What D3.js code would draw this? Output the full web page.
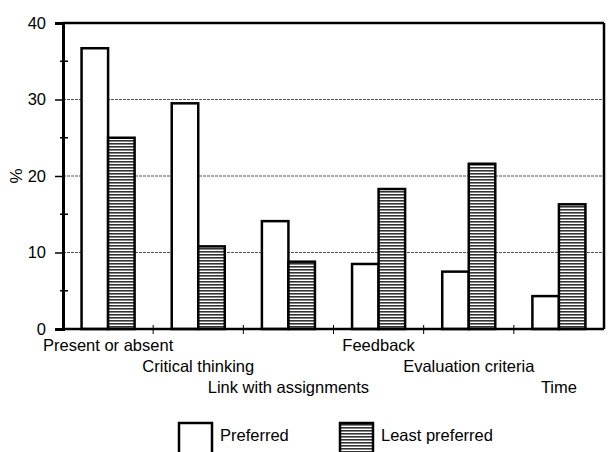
<!DOCTYPE html>
<html>
<head>
<meta charset="utf-8">
<script src="https://cdn.jsdelivr.net/npm/d3@7"></script>
<style>
body{margin:0;background:#fff;}
text{font-family:"Liberation Sans",Arial,sans-serif;fill:#000;}
</style>
</head>
<body>
<div id="chart"></div>
<script>
// data
var categories = ["Present or absent","Critical thinking","Link with assignments","Feedback","Evaluation criteria","Time"];
var seriesNames = ["Preferred","Least preferred"];
var preferred = [36.7, 29.5, 14.1, 8.5, 7.5, 4.3];
var leastPreferred = [25.0, 10.8, 8.8, 18.3, 21.6, 16.3];
var yTicks = [0,10,20,30,40];
var yMinor = [5,15,25,35];

var W = 609, H = 452;
var margin = {top: 23, left: 63, right: 5, bottom: 123};
var width = W - margin.left - margin.right,
    height = H - margin.top - margin.bottom;

var svg = d3.select("#chart").append("svg")
  .attr("width", W).attr("height", H);

// hatch pattern for least preferred
var defs = svg.append("defs");
var pat = defs.append("pattern")
  .attr("id","hatch").attr("patternUnits","userSpaceOnUse")
  .attr("width",6).attr("height",3);
pat.append("rect").attr("width",6).attr("height",3).attr("fill","#fff");
pat.append("rect").attr("y",0).attr("width",6).attr("height",1.6).attr("fill","#333");

var g = svg.append("g").attr("transform","translate("+margin.left+","+margin.top+")");

var x = d3.scaleBand().domain(categories).range([0,width]).padding(0);
var sub = d3.scaleBand().domain(seriesNames).range([0,x.bandwidth()]).paddingInner(0).paddingOuter(0.7);
var y = d3.scaleLinear().domain([0,40]).range([height,0]);

// gridlines
g.append("g").selectAll("line")
  .data(yTicks.filter(function(d){return d>0 && d<40;}))
  .enter().append("line")
  .attr("x1",0).attr("x2",width)
  .attr("y1",function(d){return y(d);}).attr("y2",function(d){return y(d);})
  .attr("stroke","#555").attr("stroke-width",1).attr("stroke-dasharray","3,1");

// bars
var rows = categories.map(function(c,i){
  return {cat:c, vals:[{k:"Preferred",v:preferred[i]},{k:"Least preferred",v:leastPreferred[i]}]};
});
var grp = g.selectAll(".grp").data(rows).enter().append("g")
  .attr("transform",function(d){return "translate("+x(d.cat)+",0)";});
grp.selectAll("rect").data(function(d){return d.vals;}).enter().append("rect")
  .attr("x",function(d){return sub(d.k);})
  .attr("width",sub.bandwidth())
  .attr("y",function(d){return y(d.v);})
  .attr("height",function(d){return height-y(d.v);})
  .attr("fill",function(d){return d.k=="Preferred" ? "#fff" : "url(#hatch)";})
  .attr("stroke","#000").attr("stroke-width",2.5);

// frame
g.append("line").attr("x1",0).attr("x2",width).attr("y1",0).attr("y2",0).attr("stroke","#000").attr("stroke-width",2.5);
g.append("line").attr("x1",width).attr("x2",width).attr("y1",0).attr("y2",height).attr("stroke","#000").attr("stroke-width",2.5);

// y axis
var yAxis = g.append("g").call(d3.axisLeft(y).tickValues(yTicks).tickSize(8).tickPadding(9));
yAxis.select(".domain").attr("stroke-width",3);
yAxis.selectAll(".tick line").attr("stroke-width",1.5);
yAxis.selectAll("text").style("font-size","16.5px");
g.append("g").selectAll("line").data(yMinor).enter().append("line")
  .attr("x1",-3).attr("x2",5)
  .attr("y1",function(d){return y(d);}).attr("y2",function(d){return y(d);})
  .attr("stroke","#000").attr("stroke-width",1.5);

// x axis
g.append("line").attr("x1",0).attr("x2",width).attr("y1",height).attr("y2",height)
  .attr("stroke","#000").attr("stroke-width",2.5);
g.append("g").selectAll("line").data(categories.slice(1)).enter().append("line")
  .attr("x1",function(d){return x(d);}).attr("x2",function(d){return x(d);})
  .attr("y1",height-4).attr("y2",height+5)
  .attr("stroke","#000").attr("stroke-width",1);

// staggered category labels
g.append("g").selectAll("text").data(categories).enter().append("text")
  .attr("x",function(d){return x(d)+x.bandwidth()/2;})
  .attr("y",function(d,i){return height+22+(i%3)*21;})
  .attr("text-anchor","middle")
  .style("font-size","16.5px")
  .text(function(d){return d;});

// y label
svg.append("text").attr("transform","translate(22,"+(margin.top+y(20))+") rotate(-90)")
  .attr("text-anchor","middle").style("font-size","17px").text("%");

// legend
var legend = svg.append("g").attr("transform","translate(0,421)");
var legX = [179, 340];
seriesNames.forEach(function(s,i){
  legend.append("rect").attr("x",legX[i]).attr("y",2).attr("width",33).attr("height",34)
    .attr("fill", i==0 ? "#fff" : "url(#hatch)").attr("stroke","#000").attr("stroke-width",2.5);
  legend.append("text").attr("x",legX[i]+41).attr("y",20).style("font-size","16.5px").text(s);
});
</script>
</body>
</html>
